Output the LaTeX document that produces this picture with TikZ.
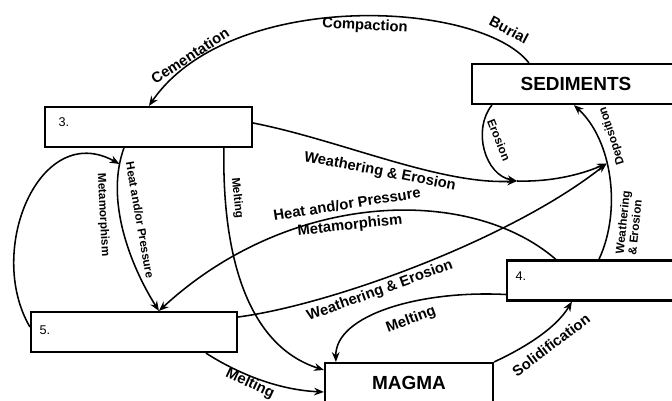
\documentclass[tikz,border=0pt]{standalone}
\usepackage{fontspec}
\setmainfont{Liberation Sans}
\usetikzlibrary{arrows.meta,calc}

\begin{document}
\begin{tikzpicture}[x=0.025cm, y=-0.025cm,
      every node/.style={inner sep=1pt},
      rock/.style={draw, line width=1.5pt, minimum height=1cm, inner sep=0pt},
      flow/.style={line width=1.1pt, -{Stealth[length=7pt, width=5.5pt]}},
      lbl/.style={font=\fontsize{10.5}{11}\selectfont\bfseries},
      vlbl/.style={font=\fontsize{8.3}{9}\selectfont\bfseries},
      num/.style={font=\fontsize{9}{10}\selectfont, anchor=west}]
  \useasboundingbox (0,0) rectangle (672,401);
  \clip (0,0) rectangle (672,401);

  % rock boxes
  \node (b3) [rock, minimum width=5.175cm] at (148.5,127) {};
  \node (sed) [rock, minimum width=5.2cm, font=\fontsize{13.5}{16}\selectfont\bfseries] at (576,84) {SEDIMENTS};
  \node (b4) [rock, minimum width=5.175cm] at (610.5,280.5) {};
  \node (b5) [rock, minimum width=5.15cm] at (134,332) {};
  \node (magma) [rock, minimum width=4.2cm, font=\fontsize{13.5}{16}\selectfont\bfseries] at (409,383) {MAGMA};
  \node (n3) [num] at ($(b3.west)+(13,-5)$) {3.};
  \node (n4) [num] at ($(b4.west)+(8,-4)$) {4.};
  \node (n5) [num] at ($(b5.west)+(8,-2)$) {5.};

  \coordinate (P) at (517,181);

  % arrows
  \draw [flow] ($(b4.north west)+(93,0)$) .. controls (622,210) and (612,140) .. ($(sed.south west)+(103,0)$) coordinate[pos=0.58] (Q);
  \draw [flow] ($(sed.north west)+(58,0)$) .. controls (480,0) and (230,-12) .. ($(b3.north west)+(105,0)$);
  \draw [flow] ($(sed.south west)+(21,0)$) .. controls (472,130) and (485,175) .. (P);
  \draw [flow] ($(b3.east)+(0,-4)$) .. controls (340,140) and (440,185) .. (P);
  \draw [flow] (P) .. controls (550,182) and (580,175) .. (Q);
  \draw [flow] ($(b5.east)+(0,-15)$) .. controls (330,305) and (510,240) .. (Q);
  \draw [flow] ($(b4.north west)+(50,0)$) .. controls (470,185) and (290,190) .. ($(b5.north west)+(129,0)$);
  \draw [flow] ($(b3.south west)+(80,0)$) .. controls (105,200) and (130,265) .. ($(b5.north west)+(129,0)$) coordinate[pos=0.1] (M);
  \draw [flow] ($(b5.west)+(0,-5)$) .. controls (-15,250) and (40,120) .. (M);
  \draw [flow] ($(b3.south west)+(180,0)$) .. controls (222,250) and (245,345) .. ($(magma.west)+(0,-13)$);
  \draw [flow] ($(b5.south west)+(176,0)$) .. controls (240,375) and (280,390) .. ($(magma.west)+(0,9)$);
  \draw [flow] ($(b4.west)+(0,14)$) .. controls (420,290) and (335,315) .. ($(magma.north west)+(12,0)$);
  \draw [flow] (magma.north east) .. controls (520,350) and (555,330) .. ($(b4.south west)+(66,0)$);

  % labels
  \node (lBur) [lbl, rotate=-28] at (509,30) {Burial};
  \node (lCom) [lbl, rotate=-3] at (365,26) {Compaction};
  \node (lCem) [lbl, rotate=33] at (190,56) {Cementation};
  \node (lWE1) [lbl, rotate=-11] at (380,172) {Weathering \& Erosion};
  \node (lEro) [vlbl, rotate=-68] at (499,140) {Erosion};
  \node (lDep) [vlbl, rotate=108] at (612,136) {Deposition};
  \node (lWE2) [vlbl, rotate=84, align=left] at (629,223) {Weathering\\\& Erosion};
  \node (lHP1) [vlbl, rotate=-80] at (140,220) {Heat and/or Pressure};
  \node (lMet1) [vlbl, rotate=-87] at (103,215) {Metamorphism};
  \node (lMel1) [vlbl, rotate=-84] at (237,198) {Melting};
  \node (lHP2) [lbl, rotate=9] at (347,204) {Heat and/or Pressure};
  \node (lMet2) [lbl, rotate=6] at (350,226) {Metamorphism};
  \node (lWE3) [lbl, rotate=20] at (380,291) {Weathering \& Erosion};
  \node (lMel2) [lbl, rotate=20] at (411,320) {Melting};
  \node (lSol) [lbl, rotate=37] at (551,345) {Solidification};
  \node (lMel3) [lbl, rotate=-25] at (250,384) {Melting};
\end{tikzpicture}
\end{document}
